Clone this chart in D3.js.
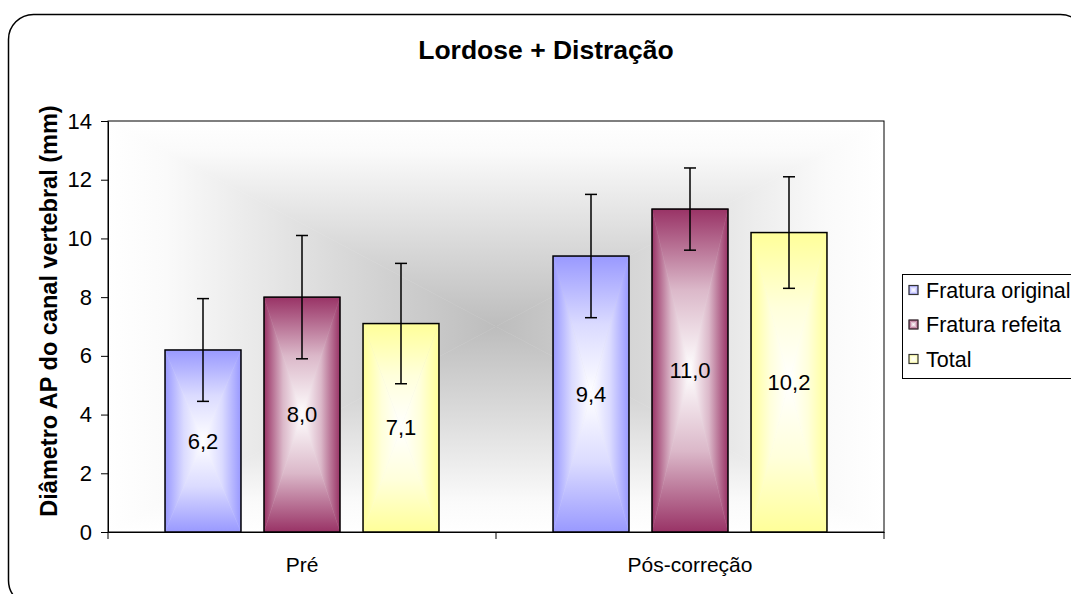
<!DOCTYPE html>
<html>
<head>
<meta charset="utf-8">
<script src="https://cdn.jsdelivr.net/npm/d3@7"></script>
<style>
  body { margin: 0; background: #fff; }
  text { font-family: "Liberation Sans", Arial, sans-serif; fill: #000; }
</style>
</head>
<body>
<div class="canvas"></div>
<script>
// data
const categories = ["Pré", "Pós-correção"]
const series = ["Fratura original", "Fratura refeita", "Total"]
const seriesColors = ["#9999ff", "#993366", "#ffff99"]
const originalValues = [6.2, 9.4]
const refeitaValues = [8.0, 11.0]
const totalValues = [7.1, 10.2]
const originalErrors = [1.75, 2.1]
const refeitaErrors = [2.1, 1.4]
const totalErrors = [2.05, 1.9]
const yTicks = [0, 2, 4, 6, 8, 10, 12, 14]

const values = [originalValues, refeitaValues, totalValues]
const errors = [originalErrors, refeitaErrors, totalErrors]

const data = []
categories.forEach((c, ci) => {
    series.forEach((s, si) => {
        data.push({ cat: c, serie: s, color: seriesColors[si], value: values[si][ci], err: errors[si][ci] })
    })
})

const width = 1071
const height = 594

const svg = d3.select(".canvas")
    .append("svg")
    .attr("width", width)
    .attr("height", height)

const defs = svg.append("defs")

// outer rounded border (runs past the right and bottom edges)
svg.append("rect")
    .attr("x", 8.5)
    .attr("y", 14.5)
    .attr("width", 1077)
    .attr("height", 591)
    .attr("rx", 25)
    .attr("fill", "none")
    .attr("stroke", "#000")
    .attr("stroke-width", 1.5)

const margin = { top: 121, left: 108 }
const graphWidth = 884 - 108
const graphHeight = 532 - 121

const graph = svg.append("g")
    .attr("transform", `translate(${margin.left}, ${margin.top})`)

// rectangular "from center" gradient made of four triangles
let gid = 0
function fromCenter(parent, x, y, w, h, stops) {
    const cx = x + w / 2, cy = y + h / 2
    const sides = [
        { pts: [[x, y], [cx, cy], [x, y + h]], from: [x, cy] },
        { pts: [[x + w, y], [cx, cy], [x + w, y + h]], from: [x + w, cy] },
        { pts: [[x, y], [x + w, y], [cx, cy]], from: [cx, y] },
        { pts: [[x, y + h], [x + w, y + h], [cx, cy]], from: [cx, y + h] }
    ]
    sides.forEach(s => {
        const id = "grad" + (gid++)
        const lg = defs.append("linearGradient")
            .attr("id", id)
            .attr("gradientUnits", "userSpaceOnUse")
            .attr("x1", s.from[0]).attr("y1", s.from[1])
            .attr("x2", cx).attr("y2", cy)
        stops.forEach(st => lg.append("stop").attr("offset", st[0]).attr("stop-color", st[1]))
        parent.append("polygon")
            .attr("points", s.pts.map(p => p.join(",")).join(" "))
            .attr("fill", `url(#${id})`)
            .attr("stroke", `url(#${id})`)
            .attr("stroke-width", 0.5)
    })
}

function barStops(color) {
    return [[0, color], [0.5, d3.interpolateRgb(color, "#fff")(0.65)], [1, "#fff"]]
}

// plot area background
const bg = graph.append("g")
fromCenter(bg, 0, 0, graphWidth, graphHeight,
    [[0, "#fff"], [0.15, "#fafafa"], [0.6, "#d9d9d9"], [1, "#bdbdbd"]])
graph.append("rect")
    .attr("width", graphWidth)
    .attr("height", graphHeight)
    .attr("fill", "none")
    .attr("stroke", "#000")
    .attr("stroke-width", 1)

// scales
const y = d3.scaleLinear()
    .domain([0, 14])
    .range([graphHeight, 0])

const x0 = d3.scaleBand()
    .domain(categories)
    .range([0, graphWidth])

const outer = x0.bandwidth() * 0.147
const x1 = d3.scaleBand()
    .domain(series)
    .range([outer, x0.bandwidth() - outer])
    .paddingInner(0.233)

// bars
const bars = graph.selectAll("g.bar")
    .data(data)
    .enter()
    .append("g")
    .attr("class", "bar")

bars.each(function (d) {
    const bx = x0(d.cat) + x1(d.serie)
    const by = y(d.value)
    const bh = graphHeight - by
    const g = d3.select(this)
    fromCenter(g, bx, by, x1.bandwidth(), bh, barStops(d.color))
    g.append("rect")
        .attr("x", bx)
        .attr("y", by)
        .attr("width", x1.bandwidth())
        .attr("height", bh)
        .attr("fill", "none")
        .attr("stroke", "#000")
        .attr("stroke-width", 1.5)
})

// value labels
graph.selectAll("text.val")
    .data(data)
    .enter()
    .append("text")
    .attr("class", "val")
    .attr("x", d => x0(d.cat) + x1(d.serie) + x1.bandwidth() / 2)
    .attr("y", d => (y(d.value) + graphHeight) / 2)
    .attr("dy", "0.35em")
    .attr("text-anchor", "middle")
    .style("font-size", "22px")
    .text(d => d3.format(".1f")(d.value).replace(".", ","))

// error bars
const cap = 6
const errG = graph.selectAll("g.err")
    .data(data)
    .enter()
    .append("g")
    .attr("class", "err")
    .attr("stroke", "#000")
    .attr("stroke-width", 1.5)

errG.append("line")
    .attr("x1", d => x0(d.cat) + x1(d.serie) + x1.bandwidth() / 2)
    .attr("x2", d => x0(d.cat) + x1(d.serie) + x1.bandwidth() / 2)
    .attr("y1", d => y(d.value + d.err))
    .attr("y2", d => y(d.value - d.err))
errG.selectAll("line.cap")
    .data(d => [d.value + d.err, d.value - d.err].map(v => ({ v, d })))
    .enter()
    .append("line")
    .attr("class", "cap")
    .attr("x1", e => x0(e.d.cat) + x1(e.d.serie) + x1.bandwidth() / 2 - cap)
    .attr("x2", e => x0(e.d.cat) + x1(e.d.serie) + x1.bandwidth() / 2 + cap)
    .attr("y1", e => y(e.v))
    .attr("y2", e => y(e.v))

// axes
const yAxisGroup = graph.append("g")
    .call(d3.axisLeft(y).tickValues(yTicks).tickSize(7).tickSizeOuter(0).tickPadding(9))
yAxisGroup.selectAll("text").style("font-size", "22px")
yAxisGroup.selectAll("path, line").attr("stroke", "#000")

const xAxisGroup = graph.append("g")
    .attr("transform", `translate(0, ${graphHeight})`)
    .call(d3.axisBottom(x0).tickSize(0).tickPadding(25))
xAxisGroup.selectAll("text").style("font-size", "21px")
xAxisGroup.select("path").attr("stroke", "#000")

// category boundary ticks
xAxisGroup.selectAll("line.bound")
    .data(categories.map(c => x0(c)).concat([x0.range()[1]]))
    .enter()
    .append("line")
    .attr("class", "bound")
    .attr("x1", d => d)
    .attr("x2", d => d)
    .attr("y1", 0)
    .attr("y2", 7)
    .attr("stroke", "#000")

// title and axis label
svg.append("text")
    .attr("x", 546)
    .attr("y", 59)
    .attr("text-anchor", "middle")
    .style("font-size", "26.5px")
    .style("font-weight", "bold")
    .text("Lordose + Distração")

svg.append("text")
    .attr("transform", "translate(57, 311) rotate(-90)")
    .attr("text-anchor", "middle")
    .style("font-size", "23.5px")
    .style("font-weight", "bold")
    .text("Diâmetro AP do canal vertebral (mm)")

// legend
const legend = svg.append("g")
legend.append("rect")
    .attr("x", 902.5)
    .attr("y", 274.5)
    .attr("width", 200)
    .attr("height", 104)
    .attr("fill", "#fff")
    .attr("stroke", "#000")

const rowY = d3.scalePoint()
    .domain(series)
    .range([290, 359])

series.forEach((s, i) => {
    const cy = rowY(s)
    const mg = legend.append("g")
    fromCenter(mg, 909, cy - 4.5, 9, 9, barStops(seriesColors[i]))
    mg.append("rect")
        .attr("x", 909)
        .attr("y", cy - 4.5)
        .attr("width", 9)
        .attr("height", 9)
        .attr("fill", "none")
        .attr("stroke", "#333")
        .attr("stroke-width", 1.2)
    legend.append("text")
        .attr("x", 926)
        .attr("y", cy)
        .attr("dy", "0.35em")
        .style("font-size", "21.5px")
        .text(s)
})
</script>
</body>
</html>
